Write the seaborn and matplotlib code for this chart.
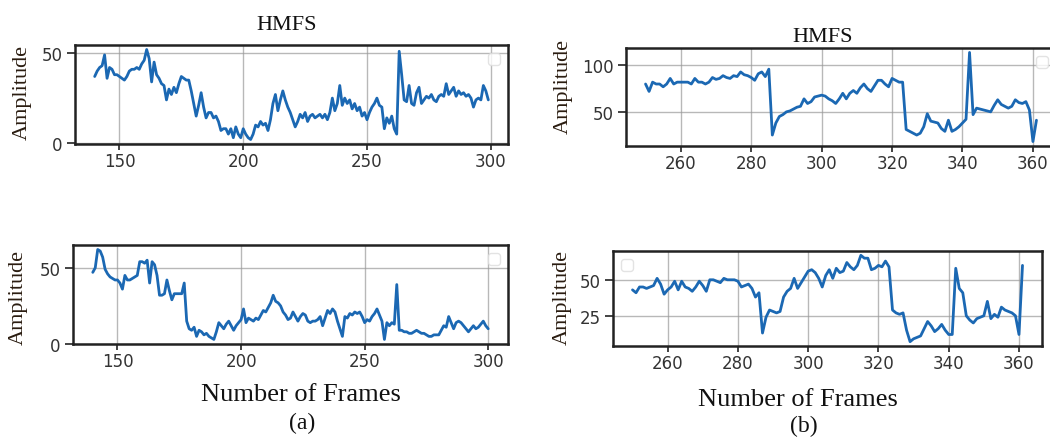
import numpy as np
import pandas as pd
import seaborn as sns
import matplotlib.pyplot as plt

# (a) frames 140..300
amp_a_top = [37, 40, 42, 43, 49, 36, 42, 41, 38, 38, 37, 36, 35, 37, 40, 41, 41, 42, 41, 44,
             46, 52, 47, 34, 45, 38, 36, 33, 32, 24, 30, 27, 31, 28, 33, 37, 36, 35, 35, 29,
             22, 15, 21, 28, 20, 14, 17, 17, 14, 15, 12, 7, 8, 8, 5, 8, 3, 9, 5, 3,
             8, 5, 3, 2, 5, 10, 9, 12, 10, 11, 7, 13, 22, 27, 18, 24, 29, 24, 20, 17,
             13, 9, 12, 16, 14, 17, 12, 15, 16, 14, 15, 16, 14, 16, 13, 17, 25, 18, 22, 32,
             21, 25, 22, 24, 19, 22, 18, 20, 15, 17, 13, 17, 20, 22, 25, 21, 20, 8, 14, 11,
             15, 8, 5, 51, 38, 24, 23, 32, 22, 21, 28, 31, 22, 24, 26, 25, 27, 24, 23, 26,
             27, 26, 33, 27, 29, 31, 26, 29, 27, 28, 26, 27, 25, 20, 24, 25, 24, 32, 29, 24]
amp_a_bot = [47, 50, 62, 61, 57, 49, 46, 44, 43, 42, 42, 40, 36, 45, 42, 42, 43, 44, 45, 54,
             54, 53, 55, 40, 54, 52, 45, 32, 32, 33, 42, 35, 29, 33, 33, 33, 33, 40, 15, 10,
             9, 11, 5, 9, 8, 6, 7, 5, 4, 3, 8, 14, 12, 10, 13, 15, 12, 9, 12, 14,
             16, 23, 14, 17, 16, 15, 17, 16, 19, 22, 21, 24, 27, 32, 28, 27, 25, 21, 19, 16,
             17, 21, 18, 15, 18, 20, 19, 15, 14, 15, 15, 16, 18, 12, 17, 22, 20, 23, 21, 15,
             10, 5, 18, 17, 20, 19, 21, 20, 21, 18, 14, 16, 15, 18, 20, 23, 19, 15, 3, 14,
             12, 14, 13, 39, 9, 9, 8, 8, 7, 7, 8, 9, 8, 7, 7, 6, 5, 5, 6, 6,
             6, 9, 12, 11, 18, 14, 10, 14, 15, 14, 12, 10, 8, 10, 12, 10, 11, 13, 15, 12, 10]
# (b) frames 250..361
amp_b_top = [80, 72, 82, 80, 80, 77, 80, 86, 80, 82, 82, 82, 82, 80, 86, 82, 82, 80, 82, 87,
             85, 86, 89, 87, 86, 89, 88, 93, 90, 89, 87, 84, 91, 93, 88, 96, 25, 38, 45, 47,
             50, 51, 53, 55, 56, 64, 59, 61, 66, 67, 68, 67, 64, 62, 59, 64, 70, 64, 70, 73,
             70, 76, 80, 75, 72, 78, 84, 84, 80, 77, 86, 84, 82, 82, 31, 29, 27, 25, 27, 34,
             48, 40, 39, 38, 32, 29, 41, 29, 31, 34, 38, 42, 114, 47, 54, 53, 52, 51, 50, 57,
             63, 58, 56, 54, 56, 63, 60, 59, 61, 52, 18, 41]
amp_b_bot = [43, 41, 45, 45, 44, 45, 46, 51, 47, 40, 43, 45, 49, 43, 49, 45, 44, 42, 45, 49,
             46, 42, 50, 50, 49, 48, 51, 50, 50, 50, 49, 45, 46, 47, 44, 38, 41, 13, 24, 29,
             28, 27, 28, 38, 42, 44, 51, 44, 48, 52, 56, 57, 55, 51, 45, 53, 57, 51, 58, 55,
             56, 62, 59, 57, 60, 67, 65, 65, 57, 58, 60, 59, 63, 59, 29, 27, 26, 27, 15, 7,
             9, 10, 11, 16, 21, 18, 14, 16, 19, 15, 12, 12, 58, 44, 41, 25, 22, 20, 23, 24,
             25, 35, 23, 26, 24, 31, 29, 28, 27, 25, 12, 60]

frames_a = np.arange(140, 140 + len(amp_a_top))
frames_a2 = np.arange(140, 140 + len(amp_a_bot))
frames_b = np.arange(250, 250 + len(amp_b_top))
frames_b2 = np.arange(250, 250 + len(amp_b_bot))

sns.set_theme(style="whitegrid")
plt.rcParams['font.family'] = ['DejaVu Sans']

fig = plt.figure(figsize=(10.5, 4.39), dpi=100)
W, H = 1050, 439


def box(l, t, r, b):
    return [l / W, 1 - b / H, (r - l) / W, (b - t) / H]


panels = [
    (box(75, 46, 508, 145), frames_a, amp_a_top, [0, 50], [150, 200, 250, 300], 'upper right'),
    (box(73, 246, 508, 345), frames_a2, amp_a_bot, [0, 50], [150, 200, 250, 300], 'upper right'),
    (box(626, 49, 1056, 147), frames_b, amp_b_top, [50, 100], [260, 280, 300, 320, 340, 360], 'upper right'),
    (box(613, 252, 1042, 347), frames_b2, amp_b_bot, [25, 50], [260, 280, 300, 320, 340, 360], 'upper left'),
]

line_col = '#1b68b3'
for pos, xs, ys, yt, xt, lloc in panels:
    ax = fig.add_axes(pos)
    df = pd.DataFrame({'frame': xs, 'amp': ys})
    sns.lineplot(data=df, x='frame', y='amp', ax=ax, color=line_col, linewidth=2)
    ax.set_yticks(yt)
    ax.set_xticks(xt)
    ax.set_xlabel('')
    ax.set_ylabel('')
    ax.grid(True, color='#9a9a9a', linewidth=1.0, alpha=0.7)
    for s in ax.spines.values():
        s.set_color('#222222')
        s.set_linewidth(1.8)
    ax.tick_params(axis='both', which='major', length=4, width=1.2, color='#222222',
                   labelsize=12, labelcolor='#333333', pad=2,
                   bottom=True, left=True)
    ax.tick_params(axis='y', length=6, pad=3)
    leg = ax.legend(handles=[], loc=lloc, frameon=True)
    leg.get_frame().set_edgecolor('#dddddd')

serif = ['Liberation Serif', 'DejaVu Serif']
lab_col = '#2a1c10'
fig.text(287 / W, 1 - 26 / H, 'HMFS', family=serif, fontsize=16, ha='center', va='center', color='#111111')
fig.text(823 / W, 1 - 37 / H, 'HMFS', family=serif, fontsize=16, ha='center', va='center', color='#111111')
for x, y in [(22, 92), (18, 298), (563, 87), (562, 298)]:
    fig.text(x / W, 1 - y / H, 'Amplitude', family=serif, fontsize=16, rotation=90,
             ha='center', va='center', color=lab_col)
fig.text(301 / W, 1 - 395 / H, 'Number of Frames', family=serif, fontsize=19,
         ha='center', va='center', color='#111111')
fig.text(798 / W, 1 - 400 / H, 'Number of Frames', family=serif, fontsize=19,
         ha='center', va='center', color='#111111')
fig.text(302 / W, 1 - 423 / H, '(a)', family=serif, fontsize=17, ha='center', va='center', color='#111111')
fig.text(804 / W, 1 - 426 / H, '(b)', family=serif, fontsize=17, ha='center', va='center', color='#111111')

fig.savefig('out.png', dpi=100)
